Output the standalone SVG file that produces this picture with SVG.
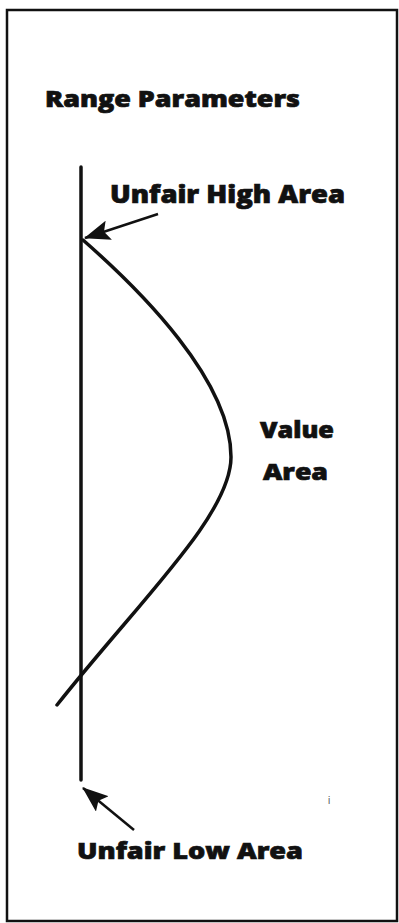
<svg xmlns="http://www.w3.org/2000/svg" width="399" height="923" viewBox="0 0 399 923">
<style>
  .lbl { font-family: "Open Sans", "Liberation Sans", sans-serif; font-weight: 800; fill: #111; stroke: #111; stroke-width: 0.7; }
  .ln { stroke: #111; fill: none; stroke-width: 3.5; stroke-linecap: round; }
  .arr { stroke: #111; fill: none; stroke-width: 2.5; }
</style>
<defs>
  <marker id="ah" viewBox="0 0 26 20" refX="25" refY="10" markerWidth="26" markerHeight="20" markerUnits="userSpaceOnUse" orient="auto">
    <path d="M0,0 L26,10 L0,20 L5,10 Z" fill="#111"/>
  </marker>
</defs>
<rect x="0" y="0" width="399" height="923" fill="#fff"/>
<g id="frame">
  <rect x="7" y="10" width="390" height="911" fill="none" stroke="#111" stroke-width="2.5"/>
</g>
<g id="title">
  <text class="lbl" x="45" y="107" font-size="23" textLength="255" lengthAdjust="spacingAndGlyphs">Range Parameters</text>
</g>
<g id="axis">
  <line class="ln" x1="81" y1="167" x2="81" y2="780"/>
</g>
<g id="curve">
  <path class="ln" d="M83,240 C140,290 231,380 231,457 C231,515 140,600 57,705"/>
</g>
<g id="unfair-high">
  <text class="lbl" x="110" y="203" font-size="24" textLength="235" lengthAdjust="spacingAndGlyphs">Unfair High Area</text>
</g>
<g id="value-area">
  <text class="lbl" x="260" y="438" font-size="23" textLength="74" lengthAdjust="spacingAndGlyphs">Value</text>
  <text class="lbl" x="263" y="480" font-size="23" textLength="65" lengthAdjust="spacingAndGlyphs">Area</text>
</g>
<g id="unfair-low">
  <text class="lbl" x="77" y="859" font-size="23" textLength="226" lengthAdjust="spacingAndGlyphs">Unfair Low Area</text>
</g>
<g id="connectors">
  <line class="arr" x1="158" y1="214" x2="85" y2="238" marker-end="url(#ah)"/>
  <line class="arr" x1="134" y1="830" x2="83" y2="788" marker-end="url(#ah)"/>
</g>
<g id="specks">
  <text x="328" y="804" font-family="Liberation Sans, sans-serif" font-size="10" fill="#555">i</text>
</g>
</svg>
